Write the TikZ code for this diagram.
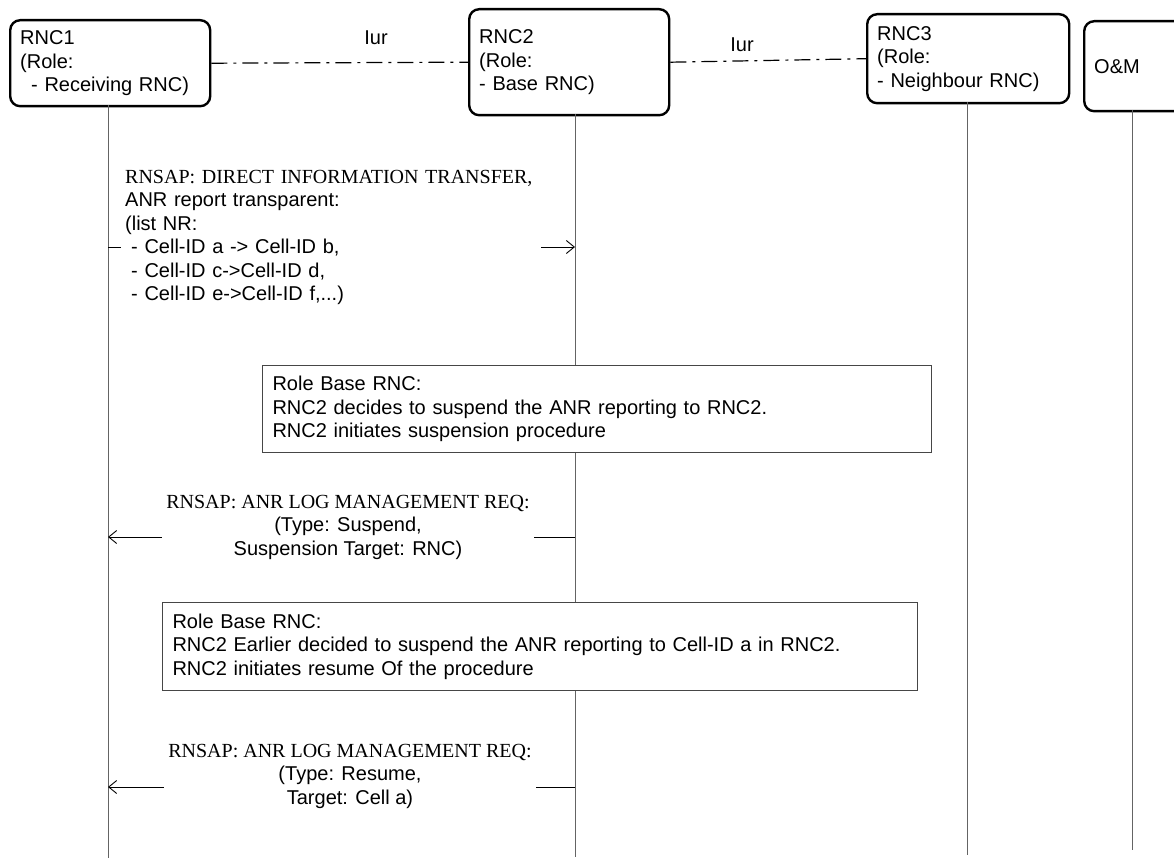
\documentclass[tikz,border=0pt]{standalone}
\usepackage{fontspec}
\setmainfont{Liberation Sans}
\newfontfamily\msgfont{Liberation Serif}
\usetikzlibrary{arrows.meta}
\definecolor{lifegray}{RGB}{100,100,100}
\definecolor{notegray}{RGB}{70,70,70}
\begin{document}
\begin{tikzpicture}[x=1pt,y=-1pt,every node/.style={font=\fontsize{20}{23.5}\selectfont}]
    \tikzstyle{entity}=[draw,line width=2.4pt,rounded corners=10pt,anchor=north west,align=left,inner xsep=10pt,inner ysep=0pt]
    \tikzstyle{note}=[draw=notegray,line width=1pt,fill=white,anchor=north west,align=left,inner xsep=10pt,inner ysep=0pt]
    \tikzstyle{msg}=[line width=0.9pt,-{Straight Barb[length=8pt,width=13pt]}]
    \tikzstyle{msgtext}=[fill=white,inner xsep=4pt,inner ysep=2pt]
    \tikzstyle{iur}=[line width=1.2pt,dash pattern=on 16pt off 6pt on 3pt off 6pt]
    \tikzstyle{lifeline}=[draw=lifegray,line width=1pt]
    \useasboundingbox (0,0) rectangle (1174,861);
    \node[entity,text width=180pt,minimum height=86pt] (rnc1) at (9,19)
      {RNC1\\(Role:\\\hspace*{11pt}- Receiving RNC)};
    \node[entity,text width=180pt,minimum height=106pt] (rnc2) at (468,8)
      {RNC2\\(Role:\\- Base RNC)};
    \node[entity,text width=182pt,minimum height=89pt] (rnc3) at (866,13)
      {RNC3\\(Role:\\- Neighbour RNC)};
    \node[entity,text width=80pt,minimum height=90pt] (om) at (1083,20) {O\&M};
    \draw[iur] (rnc1.east) -- (rnc2.west);
    \draw[iur] (rnc2.east) -- (rnc3.west);
    \node (iur1) at (376,38) {Iur};
    \node (iur2) at (742,45) {Iur};
    \coordinate (l1) at (108,105);
    \coordinate (l2) at (575,114);
    \coordinate (l3) at (967,102);
    \coordinate (l4) at (1132,110);
    \coordinate (l1end) at (108,858);
    \coordinate (l2end) at (575,857);
    \coordinate (l3end) at (967,855);
    \coordinate (l4end) at (1132,850);
    \draw[lifeline] (l1) -- (l1end);
    \draw[lifeline] (l2) -- (l2end);
    \draw[lifeline] (l3) -- (l3end);
    \draw[lifeline] (l4) -- (l4end);
    \coordinate (m1) at (0,247);
    \coordinate (m2) at (0,537);
    \coordinate (m3) at (0,787);
    \draw[msg] (l1 |- m1) -- (l2 |- m1);
    \node[msgtext,anchor=north west,align=left,text width=412pt] (transfer) at (121,168)
      {{\msgfont RNSAP: DIRECT INFORMATION TRANSFER,}\\ANR report transparent:\\(list NR:\\\hspace*{6pt}- Cell-ID a -> Cell-ID b,\\\hspace*{6pt}- Cell-ID c->Cell-ID d,\\\hspace*{6pt}- Cell-ID e->Cell-ID f,...)};
    \node[note,text width=649pt,minimum height=87pt] (decide) at (262,365)
      {Role Base RNC:\\RNC2 decides to suspend the ANR reporting to RNC2.\\RNC2 initiates suspension procedure};
    \draw[msg] (l2 |- m2) -- (l1 |- m2);
    \node[msgtext,align=center] (suspend) at (348,527)
      {{\msgfont RNSAP: ANR LOG MANAGEMENT REQ:}\\(Type: Suspend,\\Suspension Target: RNC)};
    \node[note,text width=735pt,minimum height=88pt] (resume) at (162,602)
      {Role Base RNC:\\RNC2 Earlier decided to suspend the ANR reporting to Cell-ID a in RNC2.\\RNC2 initiates resume Of the procedure};
    \draw[msg] (l2 |- m3) -- (l1 |- m3);
    \node[msgtext,align=center] (resumereq) at (350,776)
      {{\msgfont RNSAP: ANR LOG MANAGEMENT REQ:}\\(Type: Resume,\\Target: Cell a)};
\end{tikzpicture}
\end{document}
